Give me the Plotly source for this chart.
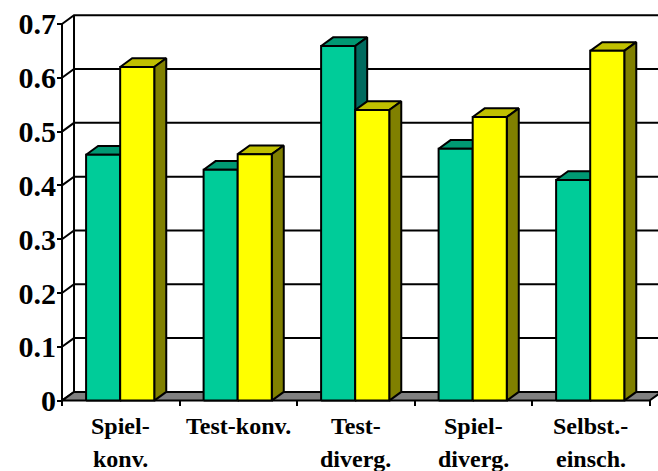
import plotly.graph_objs as go

categories = ["Spiel-", "Test-konv.", "Test-", "Spiel-", "Selbst.-"]
categories2 = ["konv.", "", "diverg.", "diverg.", "einsch."]
green_vals = [0.457, 0.429, 0.659, 0.468, 0.41]
yellow_vals = [0.62, 0.458, 0.54, 0.527, 0.65]
y_ticks = [0, 0.1, 0.2, 0.3, 0.4, 0.5, 0.6, 0.7]
y_labels = ["0", "0.1", "0.2", "0.3", "0.4", "0.5", "0.6", "0.7"]

# depth of the fake 3d box, in axis units
DX = 12 / 117.5
DY = 8.7 / 538.6
BAR_W = 0.29
END = len(categories) - 0.5
FONT = "Liberation Serif"

fig = go.Figure()


def poly(xs, ys, fill=None, width=2):
    fig.add_trace(go.Scatter(x=xs, y=ys, mode="lines",
                             fill="toself" if fill else None,
                             fillcolor=fill,
                             line=dict(color="black", width=width),
                             hoverinfo="skip", showlegend=False))


def bar(x0, val, front, top, side):
    x1 = x0 + BAR_W
    poly([x0, x0 + DX, x1 + DX, x1, x0], [val, val + DY, val + DY, val, val], top)
    poly([x1, x1 + DX, x1 + DX, x1, x1], [0, DY, val + DY, val, 0], side)
    poly([x0, x1, x1, x0, x0], [0, 0, val, val, 0], front)


# back wall
poly([-0.5 + DX, -0.5 + DX], [DY, 0.7 + DY])
for t in y_ticks:
    poly([-0.5, -0.5 + DX, END + DX], [t, t + DY, t + DY])

# floor and front left edge
poly([-0.5, -0.5 + DX, END + DX, END, -0.5], [0, DY, DY, 0, 0], "#808080")
poly([-0.5, -0.5], [0, 0.7])

for i in range(len(categories)):
    bar(i - BAR_W - 0.005, green_vals[i], "#00CC99", "#009973", "#006B5F")
    bar(i - 0.005, yellow_vals[i], "#FFFF00", "#C0C000", "#808000")

for i in range(len(categories)):
    fig.add_annotation(x=i, y=0, xref="x", yref="y", text=categories[i],
                       showarrow=False, yshift=-25, yanchor="middle",
                       font=dict(family=FONT, size=24, color="black", weight=700))
    fig.add_annotation(x=i, y=0, xref="x", yref="y", text=categories2[i],
                       showarrow=False, yshift=-58, yanchor="middle",
                       font=dict(family=FONT, size=24, color="black", weight=700))

# plot area is a bit larger than the box, lines get clipped to it otherwise
fig.update_layout(
    width=658, height=471,
    margin=dict(l=57, r=0, t=12, b=64.6),
    plot_bgcolor="white", paper_bgcolor="white",
    showlegend=False,
    xaxis=dict(range=[-0.5426, 4.572], tick0=-0.5, dtick=1, ticks="inside",
               ticklen=6, tickwidth=2, tickcolor="black", showticklabels=False,
               showline=False, showgrid=False, zeroline=False),
    yaxis=dict(range=[-0.01, 0.7222], tickvals=y_ticks, ticktext=y_labels, ticks="inside",
               ticklen=5, tickwidth=2, tickcolor="black",
               tickfont=dict(family=FONT, size=30, color="black", weight=700),
               showline=False, showgrid=False, zeroline=False),
)

fig.write_html("out.html", config={"displayModeBar": False},
               post_script="document.body.style.margin='0';window.dispatchEvent(new Event('resize'));")
